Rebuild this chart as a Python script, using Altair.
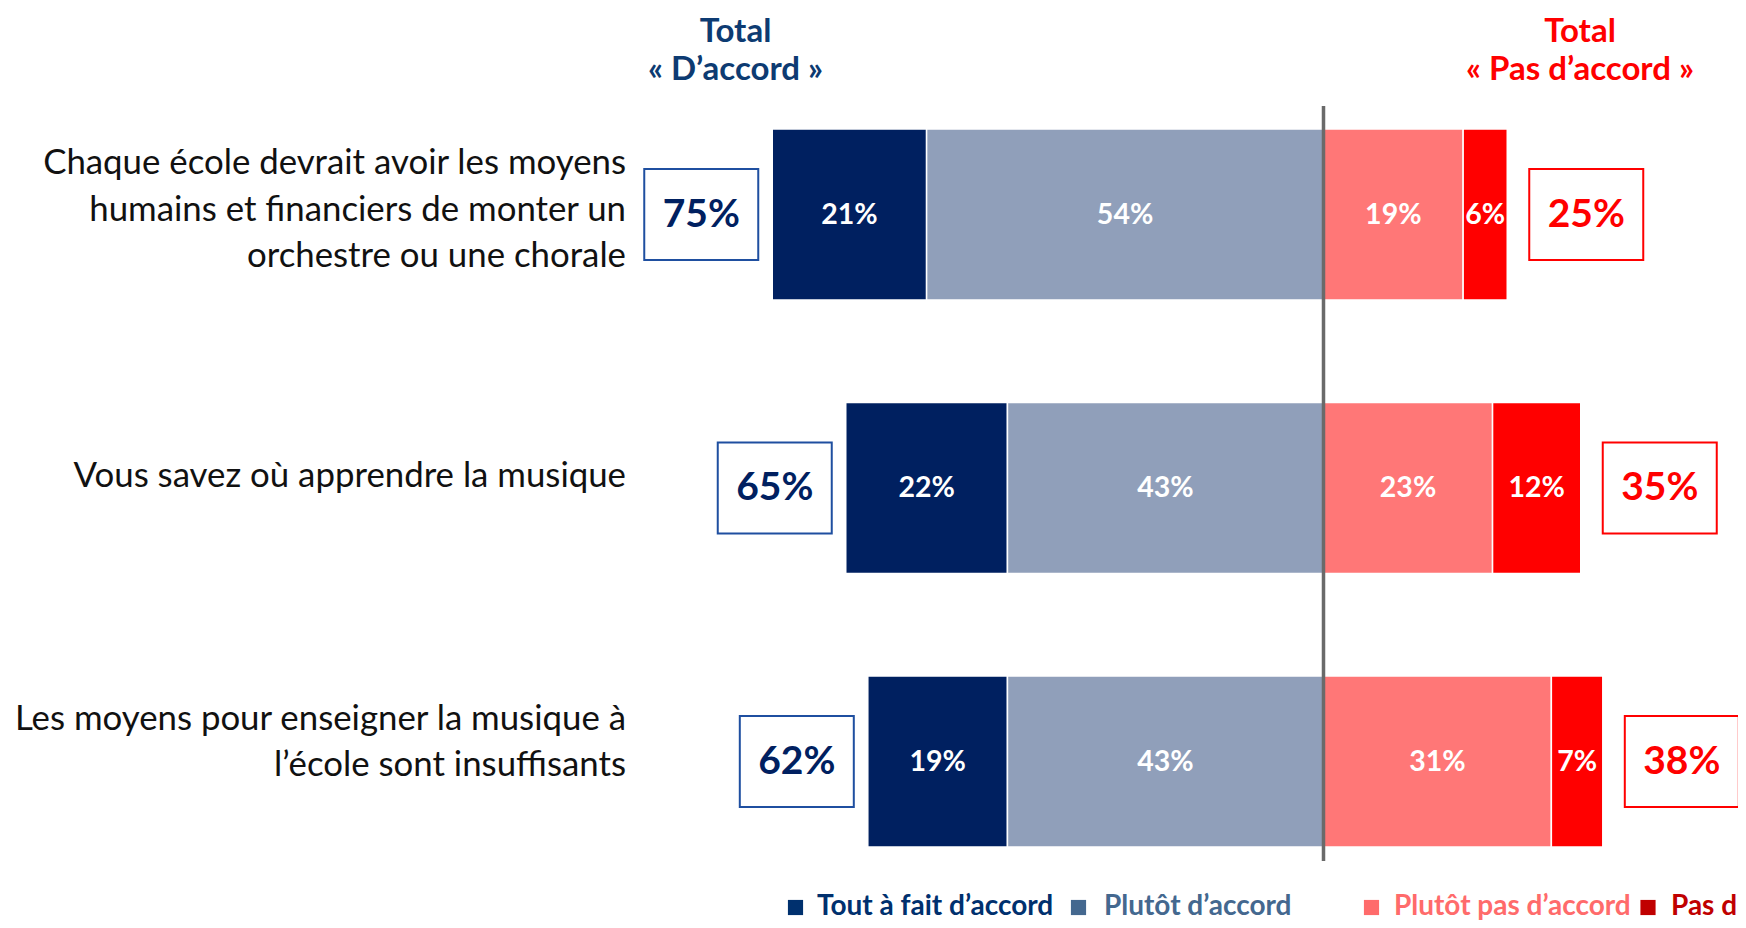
import altair as alt
import pandas as pd

# ---------------- data ----------------
statements = [
    "Chaque école devrait avoir les moyens\nhumains et financiers de monter un\norchestre ou une chorale",
    "Vous savez où apprendre la musique",
    "Les moyens pour enseigner la musique à\nl’école sont insuffisants",
]
tout_a_fait = [21, 22, 19]
plutot = [54, 43, 43]
plutot_pas = [19, 23, 31]
pas_du_tout = [6, 12, 7]
total_accord = [75, 65, 62]
total_pas = [25, 35, 38]
categories = ["Tout à fait d’accord", "Plutôt d’accord", "Plutôt pas d’accord", "Pas du tout d’accord"]
header_left = ["Total", "« D’accord »"]
header_right = ["Total", "« Pas d’accord »"]

# ---------------- style / layout ----------------
FONT = "Lato"
bar_colors = ["#002060", "#909FBA", "#FF7777", "#FF0000"]
legend_colors = ["#00306E", "#44688F", "#FF6B6B", "#C00000"]
NAVY = "#002060"
HEAD_BLUE = "#0D3B72"
RED = "#FF0000"

W, H = 1730, 912
PX_PER_PCT = 7.35
ZERO_PX = 1315.5
XMIN = -ZERO_PX / PX_PER_PCT
XMAX = (W - ZERO_PX) / PX_PER_PCT
ROW_PX = 273.5
ROW0_PX = 206.5
YMIN = -ROW0_PX / ROW_PX
YMAX = (H - ROW0_PX) / ROW_PX
BAR_HALF = 85.5 / ROW_PX
BOX_HALF_H = 45.5 / ROW_PX
BOX_W = 114 / PX_PER_PCT
GAP_L = 14 / PX_PER_PCT
GAP_R = 22 / PX_PER_PCT

LABEL_X = 618
LABEL_BASE0 = 212.5
LABEL_STEP = 266.25
LABEL_LINE_H = 46.5
HEAD_BASE = 33.5
HEAD_LINE_H = 38.5

xs = alt.Scale(domain=[XMIN, XMAX], nice=False, zero=False)
ys = alt.Scale(domain=[YMIN, YMAX], nice=False, zero=False, reverse=True)

# ---------------- tables ----------------
seg_rows = []
for i in range(len(statements)):
    vals = [tout_a_fait[i], plutot[i], plutot_pas[i], pas_du_tout[i]]
    b = [-(vals[0] + vals[1]), -vals[1], 0, vals[2], vals[2] + vals[3]]
    for k in range(4):
        seg_rows.append(dict(
            row=i, cat=categories[k], x=b[k], x2=b[k + 1], xm=(b[k] + b[k + 1]) / 2,
            y=i - BAR_HALF, y2=i + BAR_HALF, yc=i, label=f"{vals[k]}%"))
seg = pd.DataFrame(seg_rows)

left_box = pd.DataFrame(dict(
    x=[-t - GAP_L for t in total_accord],
    x2=[-t - GAP_L - BOX_W for t in total_accord],
    xm=[-t - GAP_L - BOX_W / 2 for t in total_accord],
    y=[i - BOX_HALF_H for i in range(3)],
    y2=[i + BOX_HALF_H for i in range(3)],
    yc=list(range(3)),
    label=[f"{t}%" for t in total_accord]))
right_box = pd.DataFrame(dict(
    x=[t + GAP_R for t in total_pas],
    x2=[t + GAP_R + BOX_W for t in total_pas],
    xm=[t + GAP_R + BOX_W / 2 for t in total_pas],
    y=[i - BOX_HALF_H for i in range(3)],
    y2=[i + BOX_HALF_H for i in range(3)],
    yc=list(range(3)),
    label=[f"{t}%" for t in total_pas]))

line_rows = []
for i, s in enumerate(statements):
    parts = s.split("\n")
    n = len(parts)
    for j, p in enumerate(parts):
        line_rows.append(dict(
            py=LABEL_BASE0 + LABEL_STEP * i + (j - (n - 1) / 2) * LABEL_LINE_H, label=p))
stmt_df = pd.DataFrame(line_rows)

head_df_l = pd.DataFrame(dict(t=header_left, py=[HEAD_BASE + j * HEAD_LINE_H for j in range(2)]))
head_df_r = pd.DataFrame(dict(t=header_right, py=[HEAD_BASE + j * HEAD_LINE_H for j in range(2)]))

# ---------------- layers ----------------
bars = alt.Chart(seg).mark_rect(stroke="white", strokeWidth=1.5).encode(
    x=alt.X("x:Q", scale=xs, axis=None),
    x2="x2:Q",
    y=alt.Y("y:Q", scale=ys, axis=None),
    y2="y2:Q",
    color=alt.Color("cat:N", scale=alt.Scale(domain=categories, range=bar_colors), legend=None),
)
bar_text = alt.Chart(seg).mark_text(font=FONT, fontWeight="bold", fontSize=28.5, color="white",
                                    baseline="middle", align="center").encode(
    x=alt.X("xm:Q", scale=xs, axis=None),
    y=alt.Y("yc:Q", scale=ys, axis=None),
    text="label:N",
)
center_rule = alt.Chart(pd.DataFrame({"x": [0]})).mark_rule(color="#6A6A6A", strokeWidth=3.5).encode(
    x=alt.X("x:Q", scale=xs, axis=None), y=alt.value(98), y2=alt.value(853))

lbox = alt.Chart(left_box).mark_rect(fill="white", stroke="#1F4FA0", strokeWidth=2).encode(
    x=alt.X("x:Q", scale=xs, axis=None), x2="x2:Q",
    y=alt.Y("y:Q", scale=ys, axis=None), y2="y2:Q")
lbox_t = alt.Chart(left_box).mark_text(font=FONT, fontWeight="bold", fontSize=39, color=NAVY,
                                       baseline="middle", align="center").encode(
    x=alt.X("xm:Q", scale=xs, axis=None), y=alt.Y("yc:Q", scale=ys, axis=None), text="label:N")
rbox = alt.Chart(right_box).mark_rect(fill="white", stroke=RED, strokeWidth=2).encode(
    x=alt.X("x:Q", scale=xs, axis=None), x2="x2:Q",
    y=alt.Y("y:Q", scale=ys, axis=None), y2="y2:Q")
rbox_t = alt.Chart(right_box).mark_text(font=FONT, fontWeight="bold", fontSize=39, color=RED,
                                        baseline="middle", align="center").encode(
    x=alt.X("xm:Q", scale=xs, axis=None), y=alt.Y("yc:Q", scale=ys, axis=None), text="label:N")

stmt_t = alt.Chart(stmt_df).mark_text(font=FONT, fontSize=34.8, color="#111111", align="right",
                                      baseline="alphabetic").encode(
    x=alt.value(LABEL_X), y=alt.Y("py:Q", scale=None, axis=None), text="label:N")

head_l = alt.Chart(head_df_l).mark_text(
    font=FONT, fontSize=33, fontWeight="bold", color=HEAD_BLUE, align="center",
    baseline="alphabetic").encode(
    x=alt.value(727.5), y=alt.Y("py:Q", scale=None, axis=None), text="t:N")
head_r = alt.Chart(head_df_r).mark_text(
    font=FONT, fontSize=33, fontWeight="bold", color=RED, align="center",
    baseline="alphabetic").encode(
    x=alt.value(1572), y=alt.Y("py:Q", scale=None, axis=None), text="t:N")

# legend (manual; positions are layout constants)
legend_sq_x = [787.5, 1070.5, 1363.5, 1640]
legend_tx_x = [809, 1096, 1386, 1663]
leg_df = pd.DataFrame(dict(cat=categories, col=legend_colors, sx=legend_sq_x, tx=legend_tx_x))
leg_sq = alt.Chart(leg_df).mark_square(size=230, opacity=1).encode(
    x=alt.X("sx:Q", scale=None, axis=None), y=alt.value(899.5),
    fill=alt.Fill("col:N", scale=None), stroke=alt.value(None))
leg_t = alt.Chart(leg_df).mark_text(font=FONT, fontSize=28, fontWeight="bold", align="left",
                                    baseline="alphabetic").encode(
    x=alt.X("tx:Q", scale=None, axis=None), y=alt.value(907),
    text="cat:N", color=alt.Color("col:N", scale=None))

chart = alt.layer(
    bars, bar_text, lbox, lbox_t, rbox, rbox_t, center_rule, stmt_t, head_l, head_r, leg_sq, leg_t
).properties(
    width=W, height=H, padding=0,
    autosize=alt.AutoSizeParams(type="none"),
    background="white",
).configure_view(stroke=None)

chart.save("out.html", embed_options={"renderer": "svg", "actions": False})
